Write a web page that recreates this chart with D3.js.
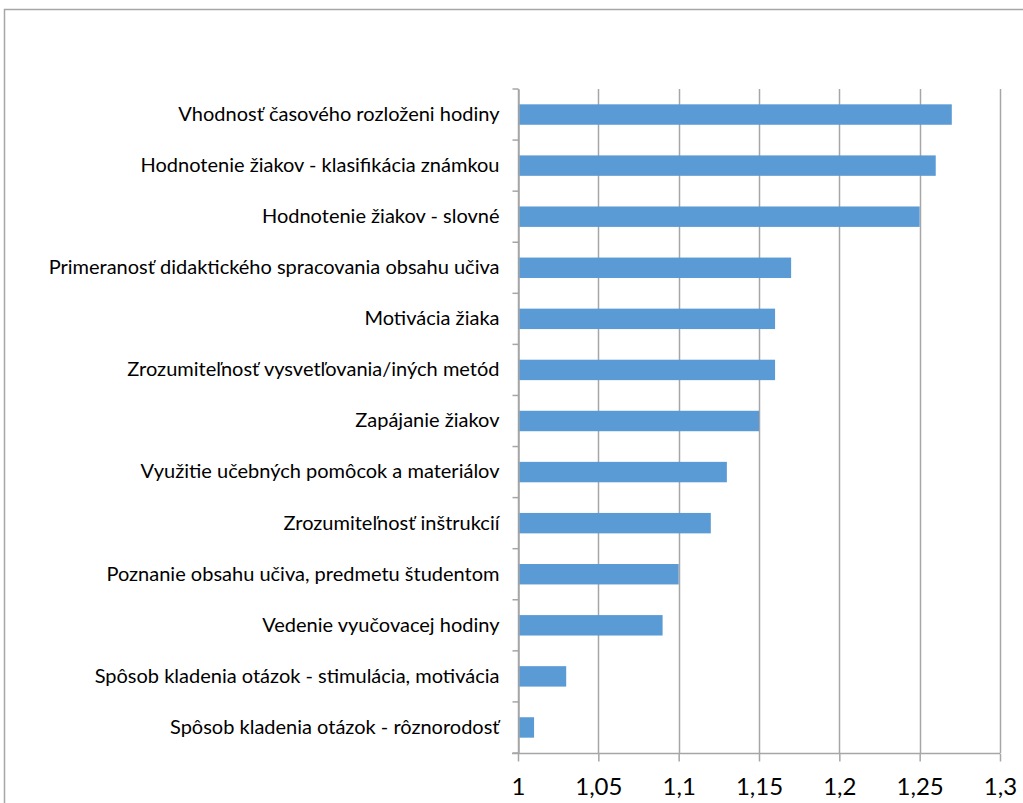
<!DOCTYPE html>
<html lang="sk">
<head>
  <meta charset="UTF-8">
  <title>Hodnotenie</title>
  <script src="https://d3js.org/d3.v7.min.js"></script>
  <style>
    html, body { margin: 0; padding: 0; background: #fff; }
    svg { display: block; }
    .cat text { font: 20px Lato, sans-serif; fill: #000; }
    .val text { font: 24px Lato, sans-serif; fill: #000; }
  </style>
</head>
<body>
  <div id="chart"></div>
  <script>
    const categories = [
      "Vhodnosť časového rozloženi hodiny",
      "Hodnotenie žiakov - klasifikácia známkou",
      "Hodnotenie žiakov - slovné",
      "Primeranosť didaktického spracovania obsahu učiva",
      "Motivácia žiaka",
      "Zrozumiteľnosť vysvetľovania/iných metód",
      "Zapájanie žiakov",
      "Využitie učebných pomôcok a materiálov",
      "Zrozumiteľnosť inštrukcií",
      "Poznanie obsahu učiva, predmetu študentom",
      "Vedenie vyučovacej hodiny",
      "Spôsob kladenia otázok - stimulácia, motivácia",
      "Spôsob kladenia otázok - rôznorodosť"
    ];
    const values = [1.27, 1.26, 1.25, 1.17, 1.16, 1.16, 1.15, 1.13, 1.12, 1.10, 1.09, 1.03, 1.01];
    const ticks = [1, 1.05, 1.1, 1.15, 1.2, 1.25, 1.3];

    const W = 1023, H = 803;
    const svg = d3.select("#chart").append("svg").attr("width", W).attr("height", H);

    // chart border (runs off the right and bottom edges)
    svg.append("rect")
      .attr("x", 4.5).attr("y", 9.5).attr("width", 1040).attr("height", 820)
      .attr("fill", "none").attr("stroke", "#a6a6a6").attr("stroke-width", 1.5);

    const plotL = 518, plotR = 1000, plotT = 89, plotB = 753;

    const x = d3.scaleLinear().domain([1, 1.3]).range([plotL, plotR]);
    const y = d3.scaleBand().domain(categories).range([plotT, plotB]).paddingInner(0.6).paddingOuter(0.3);

    // vertical gridlines
    svg.append("g").selectAll("line").data(ticks).join("line")
      .attr("x1", d => Math.round(x(d)) + 0.5).attr("x2", d => Math.round(x(d)) + 0.5)
      .attr("y1", plotT).attr("y2", plotB)
      .attr("stroke", "#a6a6a6").attr("stroke-width", 1.5);

    // bars
    svg.append("g").selectAll("rect").data(values).join("rect")
      .attr("x", x(1))
      .attr("y", (d, i) => y(categories[i]))
      .attr("width", d => x(d) - x(1))
      .attr("height", y.bandwidth())
      .attr("fill", "#5b9bd5");

    // category axis
    const yAxis = d3.axisLeft(y).tickSize(0).tickPadding(19);
    const gy = svg.append("g").attr("class", "cat")
      .attr("transform", `translate(${plotL + 0.5},0)`)
      .call(yAxis);
    gy.select(".domain").attr("stroke", "#a6a6a6").attr("stroke-width", 1.5);
    // tick marks between categories
    const step = (plotB - plotT) / categories.length;
    gy.append("g").selectAll("line").data(d3.range(categories.length + 1)).join("line")
      .attr("x1", -6).attr("x2", 0)
      .attr("y1", i => plotT + i * step).attr("y2", i => plotT + i * step)
      .attr("stroke", "#a6a6a6").attr("stroke-width", 1.5);

    // value axis
    const xAxis = d3.axisBottom(x).tickValues(ticks).tickSize(8).tickPadding(16)
      .tickFormat(d => String(d).replace(".", ","));
    const gx = svg.append("g").attr("class", "val")
      .attr("transform", `translate(0,${plotB + 0.5})`)
      .call(xAxis);
    gx.select(".domain").attr("d", `M${plotL - 6},0H${plotR}`)
      .attr("stroke", "#a6a6a6").attr("stroke-width", 1.5);
    gx.selectAll(".tick line").attr("stroke", "#a6a6a6").attr("stroke-width", 1.5);
  </script>
</body>
</html>
